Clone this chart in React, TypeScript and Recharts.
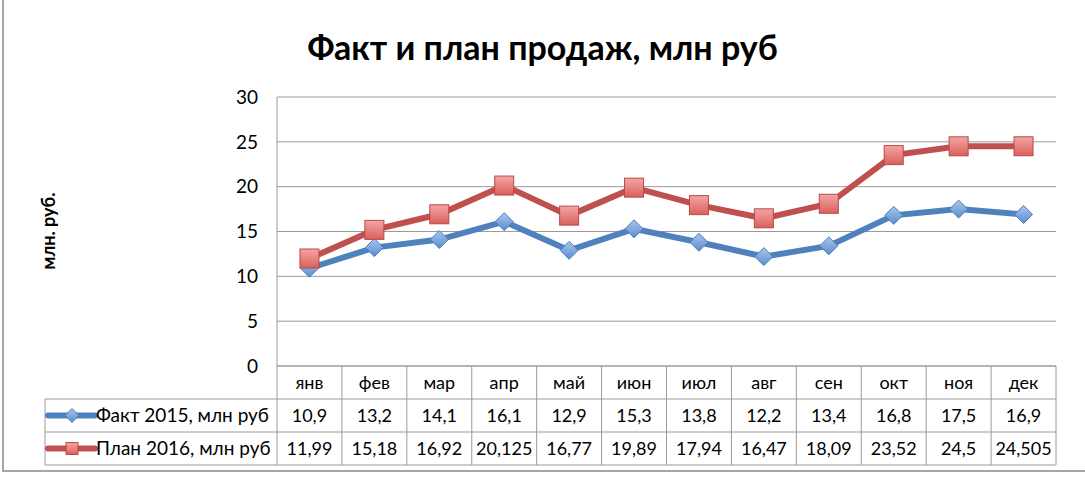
import React from 'react';
import { LineChart, Line, XAxis, YAxis, CartesianGrid } from 'recharts';

const months = ['янв', 'фев', 'мар', 'апр', 'май', 'июн', 'июл', 'авг', 'сен', 'окт', 'ноя', 'дек'];
const fact2015 = [10.9, 13.2, 14.1, 16.1, 12.9, 15.3, 13.8, 12.2, 13.4, 16.8, 17.5, 16.9];
const plan2016 = [11.99, 15.18, 16.92, 20.125, 16.77, 19.89, 17.94, 16.47, 18.09, 23.52, 24.5, 24.505];
const yTicks = [0, 5, 10, 15, 20, 25, 30];
const seriesNames = ['Факт 2015, млн руб', 'План 2016, млн руб'];
const title = 'Факт и план продаж, млн руб';
const yLabel = 'млн. руб.';

const data = months.map((m, i) => ({ month: m, fact: fact2015[i], plan: plan2016[i] }));

const W = 1085;
const H = 478;
const M = { top: 97, right: 29, left: 0, bottom: 0 };
const YAXIS_W = 277;
const XAXIS_H = H - 366;
const plotW = W - YAXIS_W - M.right;
const colW = plotW / months.length;
const rowH = 33;
const legendLeft = 45;
const BLUE = '#4F81BD';
const RED = '#C0504D';
const GRID = '#9A9A9A';
const NUM_FONT = 'Lato, "Open Sans", sans-serif';

const fmt = (v: number) => String(v).replace('.', ',');

const Diamond = ({ cx, cy, half = 9 }: any) => (
  <polygon
    points={`${cx},${cy - half} ${cx + half},${cy} ${cx},${cy + half} ${cx - half},${cy}`}
    fill="url(#blueGrad)"
    stroke="#4A7EBB"
    strokeWidth={1}
  />
);

const Square = ({ cx, cy, side = 19 }: any) => (
  <rect x={cx - side / 2} y={cy - side / 2} width={side} height={side} fill="url(#redGrad)" stroke="#B84A47" strokeWidth={1} />
);

const TableTick = (props: any) => {
  const { x, y, index } = props;
  const left = x - colW / 2;
  const right = x + colW / 2;
  const rows = [months[index], fmt(fact2015[index]), fmt(plan2016[index])];
  return (
    <g>
      <line x1={right} y1={y} x2={right} y2={y + rowH * 3} stroke={GRID} />
      {index === 0 && <line x1={left} y1={y} x2={left} y2={y + rowH * 3} stroke={GRID} />}
      {[1, 2, 3].map((k) => (
        <line key={k} x1={left} y1={y + rowH * k} x2={right} y2={y + rowH * k} stroke={GRID} />
      ))}
      {rows.map((t, k) => (
        <text
          key={k}
          x={x}
          y={y + rowH * k + rowH / 2}
          dy="0.36em"
          textAnchor="middle"
          fontFamily={NUM_FONT}
          fontSize={18}
          fill="#000"
        >
          {t}
        </text>
      ))}
      {index === 0 && (
        <g>
          <line x1={legendLeft} y1={y + rowH} x2={legendLeft} y2={y + rowH * 3} stroke={GRID} />
          {[1, 2, 3].map((k) => (
            <line key={k} x1={legendLeft} y1={y + rowH * k} x2={left} y2={y + rowH * k} stroke={GRID} />
          ))}
          {seriesNames.map((n, k) => {
            const cy = y + rowH * (k + 1) + rowH / 2;
            return (
              <g key={k}>
                <line x1={legendLeft + 3} y1={cy} x2={legendLeft + 50} y2={cy} stroke={k === 0 ? BLUE : RED} strokeWidth={6} strokeLinecap="round" />
                {k === 0 ? <Diamond cx={legendLeft + 27} cy={cy} half={7} /> : <Square cx={legendLeft + 27} cy={cy} side={12} />}
                <text x={legendLeft + 51} y={cy} dy="0.36em" fontFamily={NUM_FONT} fontSize={19} fill="#000">
                  {n}
                </text>
              </g>
            );
          })}
        </g>
      )}
    </g>
  );
};

export default function App() {
  return (
    <div style={{ position: 'absolute', left: 0, top: 0, width: W, height: H, background: '#fff' }}>
      <div
        style={{
          position: 'absolute',
          left: 0,
          top: 26,
          width: W,
          textAlign: 'center',
          fontFamily: NUM_FONT,
          fontWeight: 'bold',
          fontSize: 34,
          color: '#000',
        }}
      >
        {title}
      </div>
      <div
        style={{
          position: 'absolute',
          left: 48,
          top: 231,
          transform: 'translate(-50%, -50%) rotate(-90deg)',
          fontFamily: NUM_FONT,
          fontWeight: 'bold',
          fontSize: 18,
          whiteSpace: 'nowrap',
          color: '#000',
        }}
      >
        {yLabel}
      </div>
      <div style={{ position: 'absolute', left: 2, top: -4, width: W + 10, height: 478 - 2, border: '2px solid #A6A6A6', boxSizing: 'border-box', pointerEvents: 'none' }} />
      <div style={{ position: 'absolute', left: 0, top: 0 }}>
        <LineChart width={W} height={H} data={data} margin={M}>
          <defs>
            <linearGradient id="blueGrad" x1="0" y1="0" x2="0" y2="1">
              <stop offset="0%" stopColor="#A9C6EC" />
              <stop offset="100%" stopColor="#5B8DCF" />
            </linearGradient>
            <linearGradient id="redGrad" x1="0" y1="0" x2="0" y2="1">
              <stop offset="0%" stopColor="#F4A6A4" />
              <stop offset="100%" stopColor="#D9605D" />
            </linearGradient>
          </defs>
          <CartesianGrid vertical={false} stroke={GRID} />
          <XAxis
            dataKey="month"
            scale="band"
            height={XAXIS_H}
            tickSize={0}
            tickMargin={0}
            tickLine={false}
            axisLine={{ stroke: GRID }}
            interval={0}
            tick={<TableTick />}
          />
          <YAxis
            width={YAXIS_W}
            domain={[0, 30]}
            ticks={yTicks}
            tickLine={false}
            tickSize={0}
            tickMargin={19}
            axisLine={{ stroke: GRID }}
            tick={{ fontFamily: NUM_FONT, fontSize: 19, fill: '#000' }}
          />
          <Line dataKey="fact" stroke={BLUE} strokeWidth={6} isAnimationActive={false} dot={<Diamond />} activeDot={false} />
          <Line dataKey="plan" stroke={RED} strokeWidth={6} isAnimationActive={false} dot={<Square />} activeDot={false} />
        </LineChart>
      </div>
    </div>
  );
}
